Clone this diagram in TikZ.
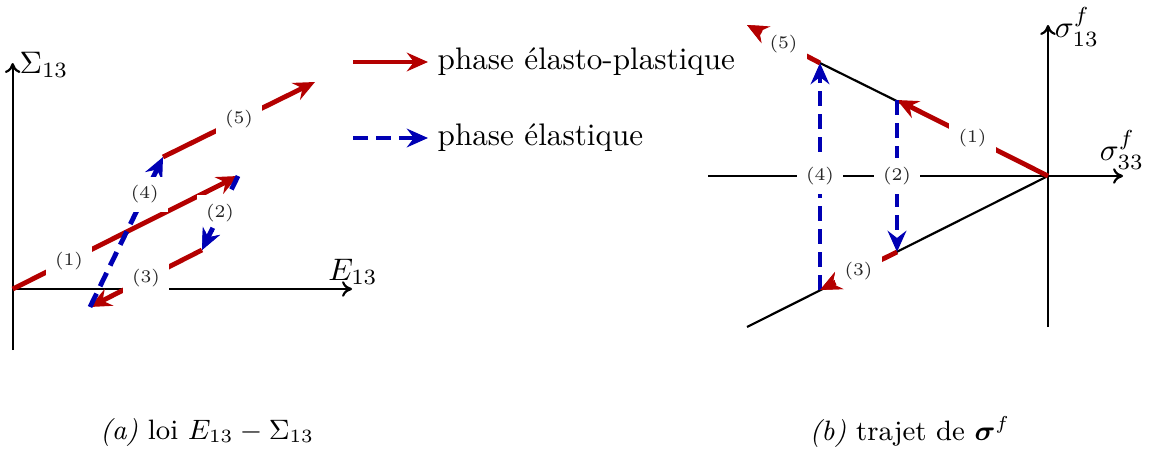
\documentclass[tikz,border=0pt]{standalone}
\usepackage{amsmath}
\usepackage{fontspec}
\usetikzlibrary{arrows.meta,calc}
\definecolor{myred}{RGB}{180,0,0}
\definecolor{myblue}{RGB}{0,0,180}
\tikzset{
  axis/.style={draw=black, line width=0.7pt, -{To[length=3.2pt,width=5pt]}},
  bline/.style={draw=black, line width=0.7pt},
  redp/.style={draw=myred, line width=1.55pt, -{Stealth[length=6.8pt,width=6pt,inset=2.3pt]}},
  bluep/.style={draw=myblue, line width=1.55pt, dash pattern=on 4.8pt off 2.6pt, -{Stealth[length=6.8pt,width=6pt,inset=2.3pt]}},
  lbl/.style={fill=white, inner xsep=3pt, inner ysep=2.8pt, text=black!85, font=\fontsize{5.7}{6.8}\selectfont},
}
\begin{document}
\begin{tikzpicture}[x=0.321pt,y=-0.321pt]
\useasboundingbox (0,0) rectangle (1149,450);
% ---------- left panel ----------
\coordinate (yb) at (12.7,350);
\coordinate (yt) at (12.7,63);
\coordinate (O) at (12.7,289);
\coordinate (xr) at (352,289);
\draw[axis] (yb) -- (yt);
\draw[axis] (O) -- (xr);
\node (Sl) at (44,65) {$\Sigma_{13}$};
\node (El) at (353,272) {$E_{13}$};
\coordinate (A1) at (238,176);
\coordinate (A2) at (202,250);
\coordinate (A3) at (90,307);
\coordinate (A4) at (163,157);
\coordinate (A5) at (315,82);
\draw[redp] (O) -- node[lbl,pos=0.25] (l1) {(1)} (A1);
\draw[bluep] (A1) -- node[lbl] (l2) {(2)} (A2);
\draw[redp] (A2) -- node[lbl] (l3) {(3)} (A3);
\draw[bluep] (A3) -- node[lbl,pos=0.75] (l4) {(4)} (A4);
\draw[redp] (A4) -- node[lbl] (l5) {(5)} (A5);
\draw[bluep] ($(A1)!0.7!(A2)$) -- (A2);
% ---------- legend ----------
\coordinate (r1) at (353,62);
\coordinate (r2) at (428,62);
\coordinate (b1) at (353,138);
\coordinate (b2) at (428,138);
\draw[redp] (r1) -- (r2);
\draw[bluep] (b1) -- (b2);
\node[anchor=west, inner sep=1pt] (t1) at (434,61.5) {phase élasto-plastique};
\node[anchor=west, inner sep=1pt] (t2) at (434,137.5) {phase élastique};
% ---------- right panel ----------
\coordinate (P) at (1048,176);
\coordinate (vb) at (1048,327);
\coordinate (vt) at (1048,25);
\coordinate (hl) at (708,176);
\coordinate (hr) at (1123,176);
\draw[axis] (vb) -- (vt);
\draw[axis] (hl) -- (hr);
\node (s13) at (1077,27) {$\sigma_{13}^{f}$};
\node (s33) at (1122,150) {$\sigma_{33}^{f}$};
\coordinate (U) at (820,63);
\coordinate (L) at (747,327);
\coordinate (B1) at (897,100);
\coordinate (B2) at (897,252);
\coordinate (B3) at (820,290);
\coordinate (B5) at (747,25);
\draw[bline] (P) -- (U);
\draw[bline] (P) -- (L);
\draw[redp] (P) -- node[lbl] (m1) {(1)} (B1);
\draw[bluep] (B1) -- node[lbl] (m2) {(2)} (B2);
\draw[redp] (B2) -- node[lbl] (m3) {(3)} (B3);
\draw[bluep] (B3) -- node[lbl] (m4) {(4)} (U);
\draw[redp] (U) -- node[lbl] (m5) {(5)} (B5);
% arrow heads kept visible over the label boxes
\draw[redp] ($(B2)!0.8!(B3)$) -- (B3);
\draw[redp] ($(U)!0.8!(B5)$) -- (B5);
% ---------- captions ----------
\node (ca) at (207,432) {\small\textit{(a)} loi $E_{13}-\Sigma_{13}$};
\node (cb) at (910,432) {\small\textit{(b)} trajet de $\boldsymbol{\sigma}^{f}$};
\end{tikzpicture}
\end{document}
